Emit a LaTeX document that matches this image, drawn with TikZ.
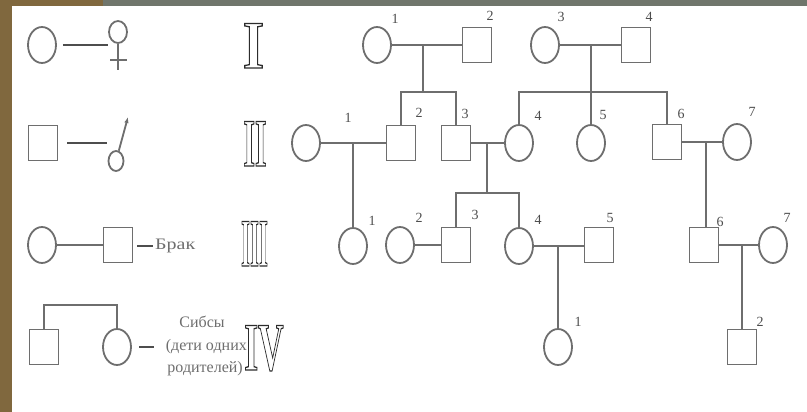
\documentclass[tikz,border=0pt]{standalone}
\usepackage{fontspec}
\setmainfont{Liberation Serif}
\usetikzlibrary{shapes.geometric,arrows.meta}
\definecolor{ln}{RGB}{110,110,110}
\definecolor{wood}{RGB}{128,104,62}
\definecolor{slate}{RGB}{112,118,108}
\newcommand{\outl}[1]{\special{pdf:literal 1 Tr 1.3 w}#1\special{pdf:literal 0 Tr}}
\begin{document}
\begin{tikzpicture}[x=1pt,y=-1pt,
  fem/.style={ellipse,draw=ln,line width=1.8pt,minimum width=28pt,minimum height=36pt,inner sep=0pt},
  mal/.style={rectangle,draw=ln,line width=1.8pt,minimum width=29pt,minimum height=35pt,inner sep=0pt},
  lnk/.style={draw=ln,line width=1.8pt},
  dsh/.style={draw=ln!70!black,line width=2.2pt},
  num/.style={font=\fontsize{14}{14}\selectfont,text=ln!70!black,inner sep=0pt},
  lbl/.style={font=\fontsize{16}{17}\selectfont,text=ln,inner sep=0pt},
  rom/.style={font=\fontsize{68}{68}\selectfont\bfseries,text=ln!40!black,inner sep=0pt,anchor=base}]
\useasboundingbox (0,0) rectangle (807,412);
\fill[white] (0,0) rectangle (807,412);
\fill[wood] (0,0) rectangle (12,412);
\fill[wood] (0,0) rectangle (103,6);
\fill[slate] (103,0) rectangle (807,6);

% ---------- legend ----------
% row 1
\node[fem] (a1) at (42,45) {};
\node[fem,minimum width=18pt,minimum height=22pt] (a2) at (118,32) {};
\coordinate (a1e) at (108,45);
\draw[dsh,shorten <=6pt] (a1) -- (a1e);
\coordinate (a2b) at (118,70);
\coordinate (a2l) at (110,60);
\coordinate (a2r) at (127,60);
\draw[lnk] (a2) -- (a2b);
\draw[lnk] (a2l) -- (a2r);
% row 2
\node[mal] (b1) at (43,143) {};
\coordinate (b1e) at (107,143);
\draw[dsh,shorten <=9pt] (b1) -- (b1e);
\node[fem,minimum width=15pt,minimum height=20pt] (b2) at (116,161) {};
\coordinate (b2t) at (128,117);
\draw[lnk,-{Latex[length=6pt,width=4.5pt]}] (b2) -- (b2t);
% row 3
\node[fem] (c1) at (42,245) {};
\node[mal] (c2) at (118,245) {};
\draw[lnk] (c1) -- (c2);
\coordinate (c3) at (137,246);
\coordinate (c4) at (153,246);
\draw[dsh] (c3) -- (c4);
\node[lbl,anchor=west] (brak) at (155,246) {\scalebox{1.25}[1]{Брак}};
% row 4
\node[mal] (d1) at (44,347) {};
\node[fem] (d2) at (117,347) {};
\draw[lnk] (d1.north) -- ++(0,-24) -| (d2.north);
\coordinate (d3) at (139,347);
\coordinate (d4) at (154,347);
\draw[dsh] (d3) -- (d4);
\node[lbl] (s1) at (202,322) {Сибсы};
\node[lbl,anchor=east] (s2) at (247,347) {(дети одних};
\node[lbl,anchor=east] (s3) at (243,369) {родителей)};

% roman numerals
\node[rom] (r1) at (253.5,68) {\scalebox{0.8}[1]{\outl{I}}};
\node[rom] (r2) at (255,166) {\scalebox{0.44}[1]{\outl{II}}};
\node[rom] (r3) at (254.5,266) {\scalebox{0.34}[1]{\outl{III}}};
\node[rom] (r4) at (264,370) {\scalebox{0.52}[1]{\outl{IV}}};

% ---------- pedigree ----------
% generation I
\node[fem] (g1f1) at (377,45) {};
\node[mal] (g1m2) at (477,45) {};
\node[fem] (g1f3) at (545,45) {};
\node[mal] (g1m4) at (636,45) {};
% generation II
\node[fem] (g2f1) at (306,143) {};
\node[mal] (g2m2) at (401,143) {};
\node[mal] (g2m3) at (456,143) {};
\node[fem] (g2f4) at (519,143) {};
\node[fem] (g2f5) at (591,143) {};
\node[mal] (g2m6) at (667,142) {};
\node[fem] (g2f7) at (737,142) {};
% generation III
\node[fem] (g3f1) at (353,246) {};
\node[fem] (g3f2) at (400,245) {};
\node[mal] (g3m3) at (456,245) {};
\node[fem] (g3f4) at (519,246) {};
\node[mal] (g3m5) at (599,245) {};
\node[mal] (g3m6) at (704,245) {};
\node[fem] (g3f7) at (773,245) {};
% generation IV
\node[fem] (g4f1) at (558,347) {};
\node[mal] (g4m2) at (742,347) {};

% marriages
\draw[lnk] (g1f1) -- (g1m2);
\draw[lnk] (g1f3) -- (g1m4);
\draw[lnk] (g2f1) -- (g2m2);
\draw[lnk] (g2m3) -- (g2f4);
\draw[lnk] (g2m6) -- (g2f7);
\draw[lnk] (g3f2) -- (g3m3);
\draw[lnk] (g3f4.east) -- (g3m5.west |- g3f4.east);
\draw[lnk] (g3m6.east) -- (g3f7.west |- g3m6.east);

% marriage midpoints
\coordinate (p1) at (423,45);
\coordinate (p2) at (591,45);
\coordinate (p3) at (353,143);
\coordinate (p4) at (487,143);
\coordinate (p5) at (706,142);
\coordinate (p6) at (558,246);
\coordinate (p7) at (742,245);

% descents and sibships
\draw[lnk] (p1) -- (423,92);
\draw[lnk] (g2m2.north) -- (401,92) -- (456,92) -- (g2m3.north);
\draw[lnk] (p2) -- (g2f5.north);
\draw[lnk] (g2f4.north) -- (519,92) -- (667,92) -- (g2m6.north);
\draw[lnk] (p3) -- (g3f1.north);
\draw[lnk] (p4) -- (487,193);
\draw[lnk] (g3m3.north) -- (456,193) -- (519,193) -- (g3f4.north);
\draw[lnk] (p5) -- (p5 |- g3m6.north);
\draw[lnk] (p6) -- (g4f1.north);
\draw[lnk] (p7) -- (g4m2.north);

% numbers
\node[num] (n11) at (395,19) {1};
\node[num] (n12) at (490,16) {2};
\node[num] (n13) at (561,17) {3};
\node[num] (n14) at (649,17) {4};
\node[num] (n21) at (348,118) {1};
\node[num] (n22) at (419,113) {2};
\node[num] (n23) at (465,114) {3};
\node[num] (n24) at (538,116) {4};
\node[num] (n25) at (603,115) {5};
\node[num] (n26) at (681,114) {6};
\node[num] (n27) at (752,112) {7};
\node[num] (n31) at (372,221) {1};
\node[num] (n32) at (419,218) {2};
\node[num] (n33) at (475,215) {3};
\node[num] (n34) at (538,220) {4};
\node[num] (n35) at (610,218) {5};
\node[num] (n36) at (720,222) {6};
\node[num] (n37) at (787,218) {7};
\node[num] (n41) at (578,322) {1};
\node[num] (n42) at (760,322) {2};
\end{tikzpicture}
\end{document}
